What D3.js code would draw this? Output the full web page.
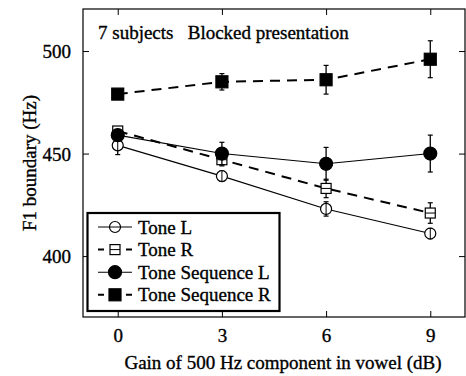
<!DOCTYPE html>
<html><head><meta charset="utf-8">
<script src="https://cdn.jsdelivr.net/npm/d3@7"></script>
<style>body{margin:0;background:#fff}svg{display:block}text{font-family:"Liberation Serif","Times New Roman",serif;fill:#000;stroke:#000;stroke-width:0.35px}</style>
</head><body><div id="c"></div>
<script>
const gains = [0, 3, 6, 9];
const xTicks = [0, 3, 6, 9];
const yTicks = [400, 450, 500];
const seriesNames = ["Tone L", "Tone R", "Tone Sequence L", "Tone Sequence R"];
const toneL = [454, 439, 423, 411];
const toneLErr = [4.5, 2.5, 3.5, 2.5];
const toneR = [461, 447, 433, 421];
const toneRErr = [2, 3, 4.5, 5];
const seqL = [459, 450, 445, 450];
const seqLErr = [2, 5.5, 8, 9];
const seqR = [479, 485, 486, 496];
const seqRErr = [2, 4, 7, 9];

const W = 466, H = 376;
const m = {l: 83, r: 465, t: 9, b: 317};
const svg = d3.select("#c").append("svg").attr("width", W).attr("height", H);
const x = d3.scaleLinear().domain([-1, 10]).range([m.l, m.r]);
const y = d3.scaleLinear().domain([370.3, 520.5]).range([m.b, m.t]);

const series = [
  {name: seriesNames[0], v: toneL, e: toneLErr, dash: null, lw: 1.1, shape: "circle", fill: "#fff"},
  {name: seriesNames[1], v: toneR, e: toneRErr, dash: "10,7", lw: 2, shape: "square", fill: "#fff"},
  {name: seriesNames[2], v: seqL, e: seqLErr, dash: null, lw: 1.1, shape: "circle", fill: "#000"},
  {name: seriesNames[3], v: seqR, e: seqRErr, dash: "10,7", lw: 2, shape: "square", fill: "#000"}
];

// frame
svg.append("rect").attr("x", m.l).attr("y", m.t).attr("width", m.r - m.l).attr("height", m.b - m.t)
  .attr("fill", "none").attr("stroke", "#000").attr("stroke-width", 1.2);

// axes with inward ticks
const gB = svg.append("g").attr("transform", `translate(0,${m.b})`)
  .call(d3.axisBottom(x).tickValues(xTicks).tickSizeInner(-6).tickSizeOuter(0).tickPadding(12));
const gT = svg.append("g").attr("transform", `translate(0,${m.t})`)
  .call(d3.axisTop(x).tickValues(xTicks).tickSizeInner(-6).tickSizeOuter(0).tickFormat(""));
const gL = svg.append("g").attr("transform", `translate(${m.l},0)`)
  .call(d3.axisLeft(y).tickValues(yTicks).tickSizeInner(-6).tickSizeOuter(0).tickPadding(12));
const gR = svg.append("g").attr("transform", `translate(${m.r},0)`)
  .call(d3.axisRight(y).tickValues(yTicks).tickSizeInner(-6).tickSizeOuter(0).tickFormat(""));
[gB, gT, gL, gR].forEach(g => { g.select(".domain").remove(); g.selectAll("line").attr("stroke", "#000"); });
[gB, gL].forEach(g => g.selectAll("text").style("font-size", "19px")
  .style("font-family", "Liberation Serif").attr("fill", "#000").attr("stroke", "#000").attr("stroke-width", 0.35));
gL.selectAll("text").attr("dy", "0.35em");

// axis titles
svg.append("text").attr("x", 283).attr("y", 369).attr("text-anchor", "middle")
  .style("font-size", "19px").text("Gain of 500 Hz component in vowel (dB)");
svg.append("text").attr("transform", "translate(36,163) rotate(-90)").attr("text-anchor", "middle")
  .style("font-size", "19px").text("F1 boundary (Hz)");
svg.append("text").attr("x", 98).attr("y", 39).style("font-size", "19px").attr("xml:space", "preserve")
  .text("7 subjects   Blocked presentation");

const line = d3.line().x((d, i) => x(gains[i])).y(d => y(d));

function marker(g, shape, fill, cx, cy) {
  if (shape === "circle") {
    g.append("circle").attr("cx", cx).attr("cy", cy).attr("r", fill === "#000" ? 6.5 : 5.5)
      .attr("fill", fill).attr("stroke", "#000").attr("stroke-width", 1.2);
  } else {
    const s = fill === "#000" ? 12 : 10;
    g.append("rect").attr("x", cx - s / 2).attr("y", cy - s / 2).attr("width", s).attr("height", s)
      .attr("fill", fill).attr("stroke", "#000").attr("stroke-width", 1.2);
  }
}

series.forEach(s => {
  const g = svg.append("g");
  g.append("path").datum(s.v).attr("d", line).attr("fill", "none").attr("stroke", "#000")
    .attr("stroke-width", s.lw).attr("stroke-dasharray", s.dash);
  s.v.forEach((v, i) => {
    const cx = x(gains[i]);
    g.append("line").attr("x1", cx).attr("x2", cx).attr("y1", y(v - s.e[i])).attr("y2", y(v + s.e[i]))
      .attr("stroke", "#000").attr("stroke-width", 1.3);
    [v - s.e[i], v + s.e[i]].forEach(e => g.append("line").attr("x1", cx - 2.5).attr("x2", cx + 2.5)
      .attr("y1", y(e)).attr("y2", y(e)).attr("stroke", "#000").attr("stroke-width", 1.2));
  });
  s.v.forEach((v, i) => {
    const cx = x(gains[i]), cy = y(v);
    marker(g, s.shape, s.fill, cx, cy);
    if (s.shape === "circle" && s.fill === "#fff") {
      g.append("line").attr("x1", cx).attr("x2", cx).attr("y1", cy - 5.5).attr("y2", cy + 5.5).attr("stroke", "#000");
    }
    if (s.shape === "square" && s.fill === "#fff") {
      g.append("line").attr("x1", cx - 5).attr("x2", cx + 5).attr("y1", cy).attr("y2", cy).attr("stroke", "#000");
    }
  });
});

// legend
const lg = svg.append("g");
lg.append("rect").attr("x", 87.5).attr("y", 213).attr("width", 192).attr("height", 98)
  .attr("fill", "#fff").attr("stroke", "#000").attr("stroke-width", 2.2);
series.forEach((s, i) => {
  const yy = 227 + i * 22.6;
  lg.append("line").attr("x1", 98).attr("x2", 132).attr("y1", yy).attr("y2", yy)
    .attr("stroke", "#000").attr("stroke-width", s.lw).attr("stroke-dasharray", s.dash ? "6,10,6,6,6" : null);
  marker(lg, s.shape, s.fill, 115, yy);
  if (s.shape === "circle" && s.fill === "#fff") lg.append("line").attr("x1", 109.5).attr("x2", 120.5).attr("y1", yy).attr("y2", yy).attr("stroke", "#000");
  if (s.shape === "square" && s.fill === "#fff") lg.append("line").attr("x1", 110).attr("x2", 120).attr("y1", yy).attr("y2", yy).attr("stroke", "#000");
  lg.append("text").attr("x", 138).attr("y", yy).attr("dy", "0.35em").style("font-size", "19px").text(s.name);
});
</script></body></html>
